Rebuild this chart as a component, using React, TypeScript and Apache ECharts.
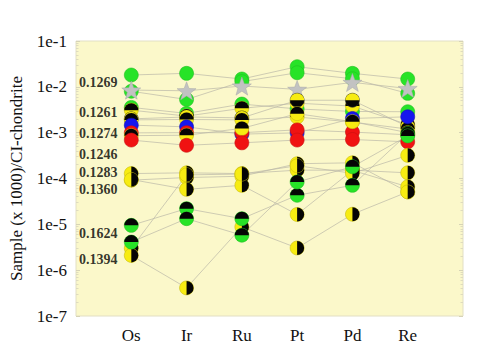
import React, { useEffect, useRef } from "react";
import * as echarts from "echarts";

// Categories (elements) and axis labels
const elements = ["Os", "Ir", "Ru", "Pt", "Pd", "Re"];
const yExponents = [-7, -6, -5, -4, -3, -2, -1];

// Os isotope ratio labels and the heights (data values) at which they sit
const ratioLabels = ["0.1269", "0.1261", "0.1274", "0.1246", "0.1283", "0.1360", "0.1624", "0.1394"];
const ratioLabelY = [1.27e-2, 2.82e-3, 9.8e-4, 3.26e-4, 1.32e-4, 5.9e-5, 6.2e-6, 1.75e-6];

// Samples: values for Os, Ir, Ru, Pt, Pd, Re (sample / CI-chondrite x 1000)
const greenA = [1.81e-2, 1.97e-2, 1.48e-2, 2.75e-2, 1.97e-2, 1.48e-2];
const greenB = [8.0e-3, 5.3e-3, 1.3e-2, 2.03e-2, 1.5e-2, 7.2e-3];
const starRef = [8.5e-3, 8.2e-3, 1.04e-2, 8.8e-3, 1.25e-2, 9.2e-3];
const greenC = [3.56e-3, 2.63e-3, 4.2e-3, 3.3e-3, 2.9e-3, 2.86e-3];
const blackYellowA = [3.1e-3, 2.3e-3, 3.4e-3, 4.4e-3, 3.8e-3, 1.5e-3];
const yellowBlackTopA = [2.0e-3, 2.2e-3, 2.1e-3, 5.1e-3, 5.1e-3, 1.35e-3];
const blackYellowB = [1.9e-3, 1.94e-3, 1.9e-3, 2.2e-3, 1.7e-3, 1.2e-3];
const blueA = [1.46e-3, 1.34e-3, 9.3e-4, 9.9e-4, 2.04e-3, 2.22e-3];
const redA = [9.9e-4, 1.0e-3, 1.0e-3, 1.15e-3, 1.03e-3, 9.0e-4];
const blackYellowC = [8.6e-4, 8.8e-4, 1.24e-3, 2.6e-3, 1.74e-3, 1.0e-3];
const redB = [6.9e-4, 5.3e-4, 6.0e-4, 6.9e-4, 7.1e-4, 6.3e-4];
const halfA = [1.28e-4, 1.33e-4, 1.28e-4, 1.52e-4, 1.52e-4, 1.33e-4];
const halfB = [9.2e-5, 1.05e-4, 1.12e-4, 2.1e-4, 2.2e-4, 5.1e-5];
const halfC = [9.5e-5, 5.8e-5, 7.1e-5, 1.64e-5, 1.5e-4, 6.6e-5];
const halfD = [2.1e-6, 4.1e-7, 8.8e-6, 3.05e-6, 1.66e-5, 5.1e-5];
const halfE = [3.0e-6, 1.2e-4, 1.25e-4, 1.9e-4, 1.3e-4, 3.2e-4];
const blackGreenA = [9.5e-6, 2.2e-5, 1.33e-5, 4.3e-5, 7.1e-5, 9.5e-4];
const blackGreenB = [4.1e-6, 1.33e-5, 5.8e-6, 8.4e-5, 1.8e-4, 8.5e-4];

// marker styles: G green, S star, BY black top/yellow, YT yellow top/black, B blue, R red, YB yellow left/black right, BG black top/green
const styleKeys = ["G", "S", "BY", "YT", "B", "R", "YB", "BG"];

const samples: { values: number[]; style: string }[] = [
  { values: greenA, style: "G" },
  { values: greenB, style: "G" },
  { values: starRef, style: "S" },
  { values: greenC, style: "G" },
  { values: blackYellowA, style: "BY" },
  { values: yellowBlackTopA, style: "YT" },
  { values: blackYellowB, style: "BY" },
  { values: blueA, style: "B" },
  { values: redA, style: "R" },
  { values: blackYellowC, style: "BY" },
  { values: redB, style: "R" },
  { values: halfA, style: "YB" },
  { values: halfB, style: "YB" },
  { values: halfC, style: "YB" },
  { values: halfE, style: "YB" },
  { values: halfD, style: "YB" },
  { values: blackGreenA, style: "BG" },
  { values: blackGreenB, style: "BG" },
];

const GREEN = "#27E327";
const RED = "#F01212";
const BLUE = "#1616EE";
const YELLOW = "#F7EC12";
const BLACK = "#050505";

const STYLES: Record<string, { base: string; stroke: string; half?: string; half2?: "top" | "right" }> = {
  G: { base: GREEN, stroke: "#22C022" },
  R: { base: RED, stroke: "#C81010" },
  B: { base: BLUE, stroke: "#1010B0" },
  BY: { base: YELLOW, stroke: "#C8BC10", half: BLACK, half2: "top" },
  YT: { base: BLACK, stroke: "#333", half: YELLOW, half2: "top" },
  YB: { base: YELLOW, stroke: "#C8BC10", half: BLACK, half2: "right" },
  BG: { base: GREEN, stroke: "#22C022", half: BLACK, half2: "top" },
};

const SERIF = "Liberation Serif";

export default function App() {
  const ref = useRef<HTMLDivElement>(null);
  useEffect(() => {
    document.body.style.margin = "0";
    const chart = echarts.init(ref.current!, undefined, { renderer: "svg" });

    const lineSeries = samples.map((s) => ({
      type: "line" as const,
      data: s.values.map((v, i) => [i + 1, v]),
      symbol: "none",
      silent: true,
      z: 2,
      lineStyle: { color: "#BAB8A8", width: 0.7 },
    }));

    const markerData: number[][] = [];
    samples.forEach((s) => {
      s.values.forEach((v, i) => markerData.push([i + 1, v, styleKeys.indexOf(s.style)]));
    });

    const markerSeries = {
      type: "custom" as const,
      z: 3,
      silent: true,
      clip: false,
      dimensions: ["x", "y", "s"],
      encode: { x: 0, y: 1 },
      data: markerData,
      renderItem: (_params: any, api: any) => {
        const x = api.value(0);
        const y = api.value(1);
        const key = styleKeys[api.value(2)];
        const [cx, cy] = api.coord([x, y]);
        const r = 7;
        if (key === "S") {
          const pts: number[][] = [];
          const ro = 10;
          const ri = 4.1;
          for (let k = 0; k < 10; k++) {
            const a = -Math.PI / 2 + (k * Math.PI) / 5;
            const rr = k % 2 === 0 ? ro : ri;
            pts.push([cx + rr * Math.cos(a), cy + 1 + rr * Math.sin(a)]);
          }
          return {
            type: "polygon",
            shape: { points: pts },
            style: { fill: "#C2C2C2", stroke: "#A8A8A8", lineWidth: 0.5 },
          };
        }
        const st = STYLES[key];
        const children: any[] = [
          { type: "circle", shape: { cx, cy, r }, style: { fill: st.base, stroke: st.stroke, lineWidth: 0.6 } },
        ];
        if (st.half) {
          const top = st.half2 === "top";
          children.push({
            type: "sector",
            shape: {
              cx,
              cy,
              r0: 0,
              r: r,
              startAngle: top ? Math.PI : -Math.PI / 2,
              endAngle: top ? 2 * Math.PI : Math.PI / 2,
              clockwise: true,
            },
            style: { fill: st.half },
          });
        }
        return { type: "group", children };
      },
    };

    const labelSeries = {
      type: "scatter" as const,
      symbolSize: 1,
      silent: true,
      itemStyle: { color: "rgba(0,0,0,0)" },
      data: ratioLabelY.map((v, i) => ({ value: [0.76, v], name: ratioLabels[i] })),
      label: {
        show: true,
        position: "left",
        distance: 0,
        formatter: (p: any) => p.name,
        fontFamily: SERIF,
        fontWeight: "bold",
        fontSize: 14,
        color: "#000",
      },
      z: 4,
    };

    const yAxisBase = {
      type: "log" as const,
      logBase: 10,
      min: 1e-7,
      max: 1e-1,
      axisLine: { show: false },
      splitLine: { show: false },
      axisTick: { show: true, inside: true, length: 4, lineStyle: { color: "#D6D3B6" } },
      minorTick: { show: true, splitNumber: 9, length: 2.5, lineStyle: { color: "#DEDBBE" } },
    };

    chart.setOption({
      animation: false,
      backgroundColor: "#FFFFFF",
      textStyle: { fontFamily: SERIF },
      grid: {
        left: 71,
        right: 21,
        top: 41,
        bottom: 40,
        show: true,
        backgroundColor: "#FBF8CA",
        borderColor: "#E2DFC4",
        borderWidth: 1,
      },
      xAxis: {
        type: "value",
        min: 0,
        max: 7,
        interval: 1,
        axisLine: { show: false },
        axisTick: { show: false },
        splitLine: { show: false },
        axisLabel: {
          margin: 11,
          fontFamily: SERIF,
          fontSize: 17,
          color: "#111",
          formatter: (v: number) => (v >= 1 && v <= 6 ? elements[v - 1] : ""),
        },
      },
      yAxis: [
        {
          ...yAxisBase,
          position: "left",
          name: "Sample (x 1000)/CI-chondrite",
          nameLocation: "middle",
          nameGap: 51,
          nameTextStyle: { fontFamily: SERIF, fontSize: 17, color: "#111" },
          axisLabel: {
            margin: 9,
            fontFamily: SERIF,
            fontSize: 17,
            color: "#111",
            formatter: (v: number) => {
              const e = Math.round(Math.log10(v));
              return yExponents.includes(e) ? "1e" + e : "";
            },
          },
        },
        { ...yAxisBase, position: "right", axisLabel: { show: false } },
      ],
      series: [...lineSeries, markerSeries, labelSeries],
    });
    return () => chart.dispose();
  }, []);
  return <div ref={ref} style={{ position: "absolute", left: 0, top: 0, width: 484, height: 356 }} />;
}
